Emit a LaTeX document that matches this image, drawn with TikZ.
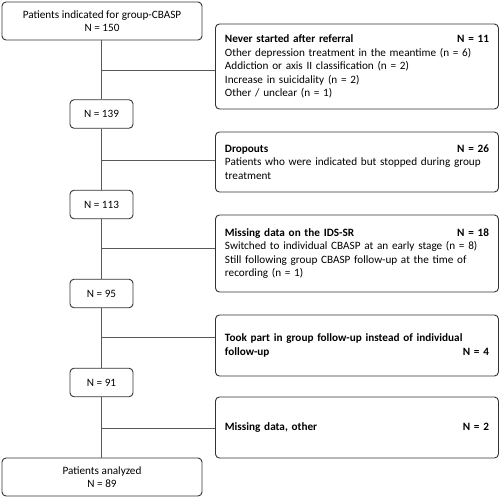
\documentclass[tikz,border=0pt]{standalone}
\usepackage{fontspec}
\setmainfont{Carlito}
\newcommand{\rcount}[1]{\hfill\textbf{#1}\hspace*{4pt}}
\begin{document}
\begin{tikzpicture}[x=1pt,y=-1pt,
  every node/.style={font=\fontsize{11.2}{13.6}\selectfont},
  bx/.style={draw=black!80, line width=0.9pt, rounded corners=4pt, inner sep=0pt},
  bigbox/.style={bx, minimum width=200pt, minimum height=38pt, align=center},
  smallbox/.style={bx, minimum width=63pt, minimum height=28.5pt, align=center},
  sidebox/.style={bx, anchor=west, minimum width=283pt, text width=264pt, align=left},
  link/.style={draw=black!65, line width=0.9pt}]
\useasboundingbox (0,0) rectangle (500,497);
\node[bigbox] (start) at (102,21) {Patients indicated for group-CBASP\\N = 150};
\node[smallbox] (n139) at (101.5,114) {N = 139};
\node[smallbox] (n113) at (101.5,204.5) {N = 113};
\node[smallbox] (n95) at (101.5,293.5) {N = 95};
\node[smallbox] (n91) at (101.5,382.5) {N = 91};
\node[bigbox] (final) at (102,477) {Patients analyzed\\N = 89};

\node[sidebox, minimum height=85pt] (b1) at (215,66.5) {\textbf{Never started after referral}\rcount{N = 11}\\
Other depression treatment in the meantime (n = 6)\\
Addiction or axis II classification (n = 2)\\
Increase in suicidality (n = 2)\\
Other / unclear (n = 1)};
\node[sidebox, minimum height=60pt] (b2) at (215,162) {\textbf{Dropouts}\rcount{N = 26}\\
Patients who were indicated but stopped during group\\ treatment};
\node[sidebox, minimum height=77pt] (b3) at (215,253.5) {\textbf{Missing data on the IDS-SR}\rcount{N = 18}\\
Switched to individual CBASP at an early stage (n = 8)\\
Still following group CBASP follow-up at the time of\\ recording (n = 1)};
\node[sidebox, minimum height=61pt] (b4) at (215,345.5) {\textbf{Took part in group follow-up instead of individual}\\
\textbf{follow-up}\rcount{N = 4}};
\node[sidebox, minimum height=61pt] (b5) at (215,427.5) {\textbf{Missing data, other}\rcount{N = 2}};

\coordinate (j1) at (101.5,70);
\coordinate (j2) at (101.5,160);
\coordinate (j3) at (101.5,248);
\coordinate (j4) at (101.5,337);
\coordinate (j5) at (101.5,428);

\draw[link] (start.south -| n139.north) -- (n139.north);
\draw[link] (n139.south) -- (n113.north);
\draw[link] (n113.south) -- (n95.north);
\draw[link] (n95.south) -- (n91.north);
\draw[link] (n91.south) -- (final.north -| n91.south);
\draw[link] (j1) -- (j1 -| b1.west);
\draw[link] (j2) -- (j2 -| b2.west);
\draw[link] (j3) -- (j3 -| b3.west);
\draw[link] (j4) -- (j4 -| b4.west);
\draw[link] (j5) -- (j5 -| b5.west);
\end{tikzpicture}
\end{document}
